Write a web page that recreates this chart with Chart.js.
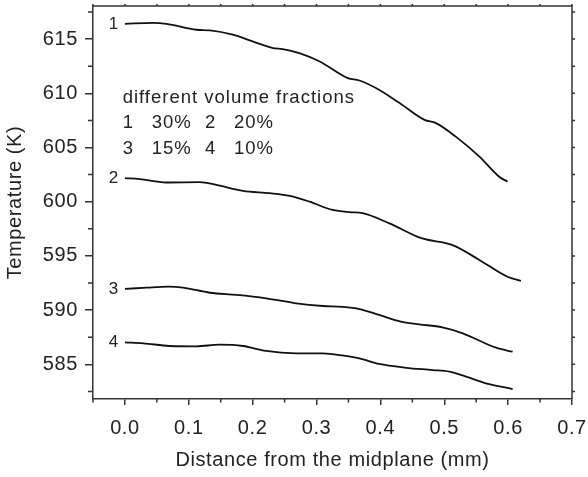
<!DOCTYPE html>
<html><head><meta charset="utf-8">
<script src="https://cdn.jsdelivr.net/npm/chart.js@4.4.0/dist/chart.umd.min.js"></script>
<style>html,body{margin:0;padding:0;background:#fff}</style>
</head><body>
<canvas id="c" width="588" height="477"></canvas>
<script>
const xTicks = [0, 0.1, 0.2, 0.3, 0.4, 0.5, 0.6, 0.7];
const yTicks = [585, 590, 595, 600, 605, 610, 615];
const xMinor = [-0.05, 0.05, 0.15, 0.25, 0.35, 0.45, 0.55, 0.65];
const yMinor = [582.5, 587.5, 592.5, 597.5, 602.5, 607.5, 612.5, 617.5];
const seriesLabels = ['1', '2', '3', '4'];

const x1 = [0, 0.044, 0.065, 0.112, 0.133, 0.169, 0.2, 0.232, 0.247, 0.273, 0.305, 0.349, 0.367, 0.393, 0.43, 0.469, 0.487, 0.518, 0.555, 0.586, 0.599];
const y1 = [616.41, 616.5, 616.41, 615.86, 615.8, 615.4, 614.78, 614.17, 614.08, 613.7, 612.93, 611.4, 611.18, 610.48, 609.1, 607.55, 607.25, 606.0, 604.16, 602.3, 601.85];
const x2 = [0, 0.023, 0.065, 0.117, 0.143, 0.185, 0.227, 0.258, 0.289, 0.325, 0.352, 0.372, 0.414, 0.464, 0.513, 0.555, 0.599, 0.62];
const y2 = [602.17, 602.08, 601.77, 601.8, 601.55, 601.0, 600.78, 600.53, 600.0, 599.24, 599.03, 598.94, 598.0, 596.63, 596.0, 594.63, 593.08, 592.7];
const x3 = [0, 0.034, 0.068, 0.091, 0.133, 0.175, 0.221, 0.268, 0.31, 0.34, 0.367, 0.398, 0.432, 0.461, 0.497, 0.529, 0.581, 0.607];
const y3 = [591.95, 592.07, 592.16, 592.07, 591.6, 591.4, 591.09, 590.63, 590.38, 590.3, 590.1, 589.55, 588.93, 588.69, 588.41, 587.86, 586.53, 586.16];
const x4 = [0, 0.029, 0.07, 0.112, 0.148, 0.185, 0.221, 0.268, 0.31, 0.34, 0.367, 0.398, 0.44, 0.482, 0.508, 0.534, 0.565, 0.607];
const y4 = [587.03, 586.94, 586.69, 586.66, 586.81, 586.69, 586.23, 586.01, 586.0, 585.82, 585.55, 585.03, 584.68, 584.47, 584.32, 583.86, 583.25, 582.72];

const noteTitle = 'different volume fractions';
const noteRows = [['1', '30%', '2', '20%'], ['3', '15%', '4', '10%']];
const xTitle = 'Distance from the midplane (mm)';
const yTitle = 'Temperature (K)';

const FONT = "'Liberation Sans', Arial, sans-serif";
const AXIS = '#333';
const TEXT = '#222';

function pts(xs, ys) { return xs.map((x, i) => ({x: x, y: ys[i]})); }
const allX = [x1, x2, x3, x4], allY = [y1, y2, y3, y4];

const datasets = allX.map((xs, i) => ({
  label: seriesLabels[i],
  data: pts(xs, allY[i]),
  borderColor: '#111',
  borderWidth: 1.8,
  pointRadius: 0,
  fill: false,
  cubicInterpolationMode: 'monotone'
}));

const spacing = {
  id: 'spacing',
  beforeInit(chart) { chart.ctx.letterSpacing = '0.6px'; },
  beforeDraw(chart) { chart.ctx.letterSpacing = '0.6px'; }
};

const extras = {
  id: 'extras',
  afterDraw(chart) {
    const ctx = chart.ctx, xs = chart.scales.x, ys = chart.scales.y, a = chart.chartArea;
    ctx.save();
    ctx.strokeStyle = AXIS; ctx.lineWidth = 1.5;
    ctx.beginPath();
    ctx.moveTo(a.left, a.top); ctx.lineTo(a.right, a.top); ctx.lineTo(a.right, a.bottom);
    ctx.stroke();
    ctx.beginPath();
    xMinor.forEach(v => { const p = xs.getPixelForValue(v); ctx.moveTo(p, a.bottom); ctx.lineTo(p, a.bottom + 3.5); });
    yMinor.forEach(v => { const p = ys.getPixelForValue(v); ctx.moveTo(a.left, p); ctx.lineTo(a.left - 5, p); });
    xTicks.concat(xMinor).forEach(v => { const p = xs.getPixelForValue(v); ctx.moveTo(p, a.top); ctx.lineTo(p, a.top - 2); });
    yTicks.concat(yMinor).forEach(v => { const p = ys.getPixelForValue(v); ctx.moveTo(a.right, p); ctx.lineTo(a.right + 3, p); });
    ctx.stroke();
    ctx.fillStyle = TEXT;
    ctx.letterSpacing = '0.8px';
    ctx.font = '17px ' + FONT;
    ctx.textAlign = 'right'; ctx.textBaseline = 'middle';
    allY.forEach((ysr, i) => {
      ctx.fillText(seriesLabels[i], xs.getPixelForValue(0) - 6, ys.getPixelForValue(ysr[0]) + 0.5);
    });
    ctx.font = '18.5px ' + FONT;
    ctx.letterSpacing = '1px';
    ctx.textAlign = 'left'; ctx.textBaseline = 'alphabetic';
    const x0 = xs.getPixelForValue(0);
    ctx.fillText(noteTitle, x0 - 2.3, ys.getPixelForValue(609.09));
    const cols = [-2.3, 26.7, 80, 109];
    const rowY = [606.78, 604.41];
    noteRows.forEach((r, ri) => {
      r.forEach((t, ci) => ctx.fillText(t, x0 + cols[ci], ys.getPixelForValue(rowY[ri])));
    });
    ctx.restore();
  }
};

new Chart(document.getElementById('c'), {
  type: 'line',
  data: {datasets: datasets},
  options: {
    responsive: false,
    animation: false,
    events: [],
    layout: {padding: {top: 6, right: 16, left: 0, bottom: 0}},
    plugins: {legend: {display: false}, tooltip: {enabled: false}},
    scales: {
      x: {
        type: 'linear', min: -0.05, max: 0.7,
        afterBuildTicks: s => { s.ticks = xTicks.map(v => ({value: v})); },
        afterFit: s => { s.height = 78; s.paddingLeft = 0; s.paddingRight = 0; },
        ticks: {callback: v => Number(v).toFixed(1), font: {family: FONT, size: 20}, color: TEXT, padding: 11, maxRotation: 0},
        grid: {drawOnChartArea: false, tickLength: 6, color: AXIS, lineWidth: 1.5},
        border: {color: AXIS, width: 1.5},
        title: {display: true, text: xTitle, font: {family: FONT, size: 20}, color: TEXT, padding: {top: 0, bottom: 5}}
      },
      y: {
        type: 'linear', min: 581.8, max: 618.05,
        afterBuildTicks: s => { s.ticks = yTicks.map(v => ({value: v})); },
        afterFit: s => { s.width = 93; s.paddingTop = 0; s.paddingBottom = 0; },
        ticks: {callback: v => String(v), font: {family: FONT, size: 20}, color: TEXT, padding: 7},
        grid: {drawOnChartArea: false, tickLength: 8, color: AXIS, lineWidth: 1.5},
        border: {color: AXIS, width: 1.5},
        title: {display: true, text: yTitle, font: {family: FONT, size: 20}, color: TEXT, padding: {top: 3, bottom: 0}}
      }
    }
  },
  plugins: [spacing, extras]
});
</script>
</body></html>
